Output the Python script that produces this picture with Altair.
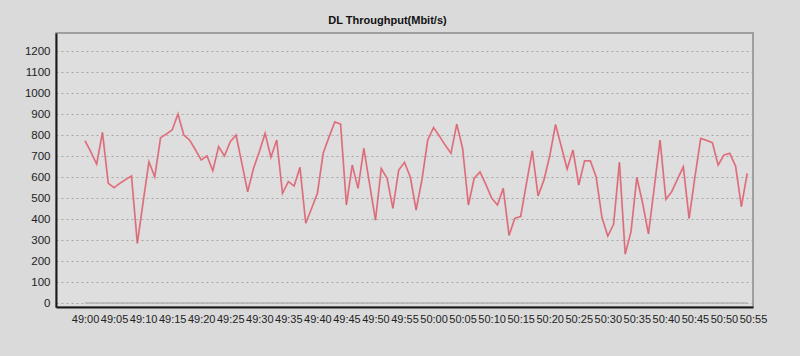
import altair as alt
import pandas as pd

# seconds after 49:00
seconds = list(range(0, 115))
dl_throughput = [
    773, 720, 662, 813, 570, 549, 570, 588, 605, 284,
    480, 673, 601, 787, 805, 824, 900, 800, 776, 730,
    681, 701, 630, 745, 700, 768, 800, 665, 530, 641,
    720, 808, 694, 776, 522, 578, 557, 646, 380, 450,
    522, 713, 790, 863, 852, 467, 657, 546, 737, 565,
    395, 641, 594, 451, 633, 670, 600, 443, 586, 776,
    836, 795, 752, 713, 852, 737, 467, 594, 625, 565,
    500, 467, 546, 322, 404, 412, 570, 725, 510, 585,
    700, 850, 745, 638, 729, 562, 677, 677, 600, 407,
    319, 375, 670, 233, 340, 598, 475, 329, 550, 776,
    494, 530, 590, 649, 403, 600, 784, 775, 764, 657,
    705, 713, 652, 459, 617,
]
ul_throughput = [0] * len(seconds)

tick_values = list(range(0, 120, 5))
y_ticks = list(range(0, 1300, 100))

df = pd.DataFrame({"t": seconds, "dl": dl_throughput, "ul": ul_throughput})

x_enc = alt.X(
    "t:Q",
    scale=alt.Scale(domain=[-5, 115], nice=False, zero=False),
    axis=alt.Axis(
        values=tick_values,
        labelExpr="(49 + floor(datum.value / 60)) + ':' + (datum.value % 60 < 10 ? '0' : '') + (datum.value % 60)",
        grid=False,
        ticks=False,
        domainColor="#1a1a1a",
        domainWidth=2,
        labelPadding=6,
        labelFontSize=11,
        labelFont="Liberation Sans",
        labelColor="#222222",
        labelFlush=False,
        labelOverlap=False,
        title=None,
    ),
)
y_scale = alt.Scale(domain=[-19, 1286], nice=False, zero=False)
y_axis = alt.Axis(
    values=y_ticks,
    format="d",
    grid=True,
    gridColor="#a6a6a6",
    gridDash=[2, 3],
    gridWidth=1,
    ticks=False,
    domainColor="#1a1a1a",
    domainWidth=2,
    labelPadding=6,
    labelFontSize=11.5,
    labelFont="Liberation Sans",
    labelColor="#222222",
    title=None,
)

zero_line = alt.Chart(df).mark_line(color="#b2b2b2", strokeWidth=1.4).encode(
    x=x_enc, y=alt.Y("ul:Q", scale=y_scale, axis=y_axis)
)
pink = alt.Chart(df).mark_line(color="#f27c88", strokeWidth=1.8).encode(
    x=x_enc, y=alt.Y("dl:Q", scale=y_scale, axis=y_axis)
)
dark = alt.Chart(df).mark_line(color="#6a5060", strokeWidth=0.9, opacity=0.3).encode(
    x=x_enc, y=alt.Y("dl:Q", scale=y_scale, axis=y_axis)
)

chart = (
    alt.layer(zero_line, pink, dark)
    .properties(
        width=697,
        height=274,
        autosize=alt.AutoSizeParams(type="none"),
        padding={"left": 56, "top": 33, "right": 47, "bottom": 49},
        background="#dadada",
        title=alt.TitleParams(
            "DL Throughput(Mbit/s)",
            fontSize=11,
            fontWeight="bold",
            font="Liberation Sans",
            color="#111111",
            offset=7,
            dx=-17,
        ),
    )
    .configure_view(fill="#dedede", stroke="#8a8a8a", strokeWidth=1.5)
)

chart.save("out.html", embed_options={"renderer": "svg", "actions": False})
